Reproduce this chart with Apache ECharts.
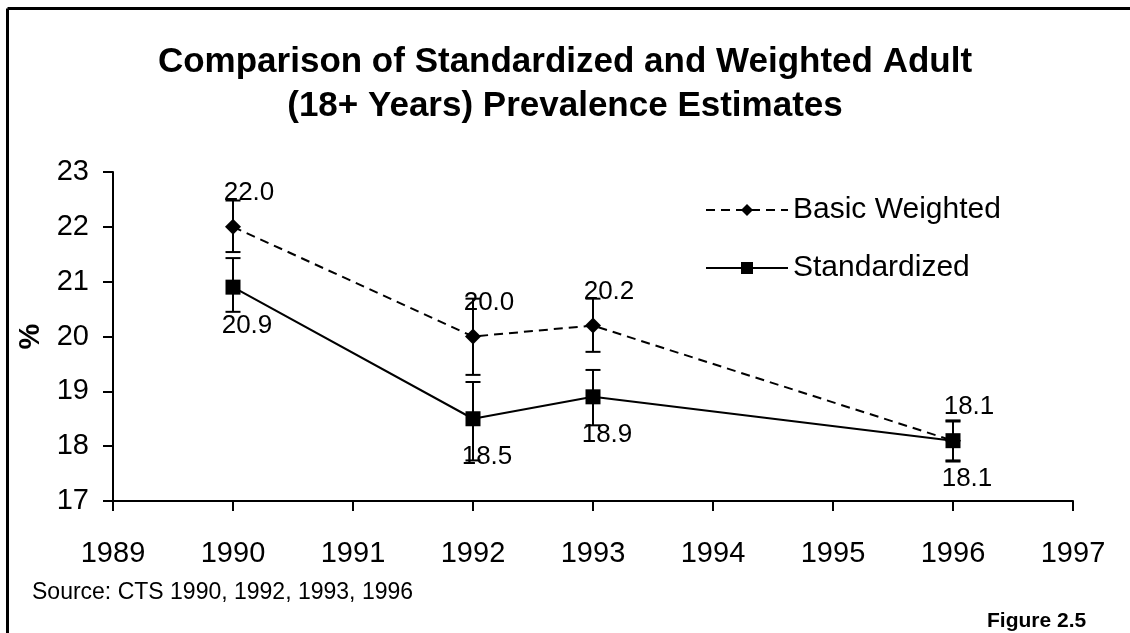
<!DOCTYPE html>
<html>
<head>
<meta charset="utf-8">
<script src="https://cdn.jsdelivr.net/npm/echarts@6/dist/echarts.min.js"></script>
<style>
  html, body { margin: 0; padding: 0; background: #fff; }
  #chart { width: 1130px; height: 633px; }
</style>
</head>
<body>
<div id="chart"></div>
<script>
// data
var years = [1990, 1992, 1993, 1996];
var basicWeighted = [22.0, 20.0, 20.2, 18.1];
var standardized = [20.9, 18.5, 18.9, 18.1];
// error bar ends
var basicLow = [21.54, 19.30, 19.72, 17.74];
var basicHigh = [22.48, 20.69, 20.69, 18.47];
var stdLow = [20.45, 17.74, 18.38, 17.72];
var stdHigh = [21.43, 19.17, 19.39, 18.45];

var FONT = '"Liberation Sans", Arial, Helvetica, sans-serif';

function pairs(xs, ys) {
    return xs.map(function (x, i) { return [x, ys[i]]; });
}
function triples(xs, lo, hi) {
    return xs.map(function (x, i) { return [x, lo[i], hi[i]]; });
}

// vertical error bar with caps
function errorBar(params, api) {
    var top = api.coord([api.value(0), api.value(2)]);
    var bot = api.coord([api.value(0), api.value(1)]);
    var w = 7.5;
    var st = { stroke: '#000', lineWidth: 2 };
    return {
        type: 'group',
        children: [
            { type: 'line', shape: { x1: top[0], y1: top[1], x2: bot[0], y2: bot[1] }, style: st },
            { type: 'line', shape: { x1: top[0] - w, y1: top[1], x2: top[0] + w, y2: top[1] }, style: st },
            { type: 'line', shape: { x1: bot[0] - w, y1: bot[1], x2: bot[0] + w, y2: bot[1] }, style: st }
        ]
    };
}

var chart = echarts.init(document.getElementById('chart'));

var axisCommon = {
    axisLine: { lineStyle: { color: '#000', width: 2 } },
    axisTick: { show: true, length: 10, lineStyle: { color: '#000', width: 2 } },
    splitLine: { show: false }
};

var option = {
    animation: false,
    backgroundColor: '#fff',
    title: {
        text: 'Comparison of Standardized and Weighted Adult\n(18+ Years) Prevalence Estimates',
        left: 'center',
        top: 35,
        textStyle: { fontSize: 35, fontWeight: 'bold', color: '#000', fontFamily: FONT, lineHeight: 44 }
    },
    legend: {
        orient: 'vertical',
        left: 700,
        top: 190,
        itemWidth: 82,
        itemHeight: 15,
        itemGap: 28,
        data: ['Basic Weighted', 'Standardized'],
        textStyle: { fontSize: 30, color: '#000', fontFamily: FONT }
    },
    grid: { left: 113, right: 57, top: 172, bottom: 132 },
    xAxis: Object.assign({
        type: 'value',
        min: 1989,
        max: 1997,
        interval: 1
    }, axisCommon, {
        axisLabel: { color: '#000', fontSize: 29, fontFamily: FONT, margin: 38,
            formatter: function (v) { return String(v); } }
    }),
    yAxis: Object.assign({
        type: 'value',
        min: 17,
        max: 23,
        interval: 1,
        name: '%',
        nameLocation: 'middle',
        nameRotate: 90,
        nameGap: 64,
        nameTextStyle: { fontSize: 29, fontWeight: 'bold', color: '#000', fontFamily: FONT }
    }, axisCommon, {
        axisLabel: { color: '#000', fontSize: 29, fontFamily: FONT, margin: 24 }
    }),
    series: [
        {
            type: 'custom',
            renderItem: errorBar,
            data: triples(years, basicLow, basicHigh),
            encode: { x: 0, y: [1, 2] },
            z: 1
        },
        {
            type: 'custom',
            renderItem: errorBar,
            data: triples(years, stdLow, stdHigh),
            encode: { x: 0, y: [1, 2] },
            z: 1
        },
        {
            name: 'Basic Weighted',
            type: 'line',
            data: pairs(years, basicWeighted),
            symbol: 'diamond',
            symbolSize: 16,
            itemStyle: { color: '#000' },
            lineStyle: { color: '#000', width: 2, type: [9, 6] },
            label: {
                show: true, position: 'top', distance: 13, offset: [16, 0],
                fontSize: 26, color: '#000', fontFamily: FONT,
                formatter: function (p) { return p.value[1].toFixed(1); }
            },
            z: 3
        },
        {
            name: 'Standardized',
            type: 'line',
            data: pairs(years, standardized),
            symbol: 'rect',
            symbolSize: 15,
            itemStyle: { color: '#000' },
            lineStyle: { color: '#000', width: 2 },
            label: {
                show: true, position: 'bottom', distance: 18, offset: [14, 0],
                fontSize: 26, color: '#000', fontFamily: FONT,
                formatter: function (p) { return p.value[1].toFixed(1); }
            },
            z: 3
        }
    ],
    graphic: [
        { type: 'line', shape: { x1: 7.5, y1: 8.5, x2: 1130, y2: 8.5 }, style: { stroke: '#000', lineWidth: 3 } },
        { type: 'line', shape: { x1: 7.5, y1: 8.5, x2: 7.5, y2: 633 }, style: { stroke: '#000', lineWidth: 3 } },
        { type: 'text', left: 32, top: 581, style: { text: 'Source: CTS 1990, 1992, 1993, 1996', fontSize: 23, fill: '#000', fontFamily: FONT } },
        { type: 'text', left: 987, top: 611, style: { text: 'Figure 2.5', fontSize: 21, fontWeight: 'bold', fill: '#000', fontFamily: FONT } }
    ]
};

chart.setOption(option);
</script>
</body>
</html>
